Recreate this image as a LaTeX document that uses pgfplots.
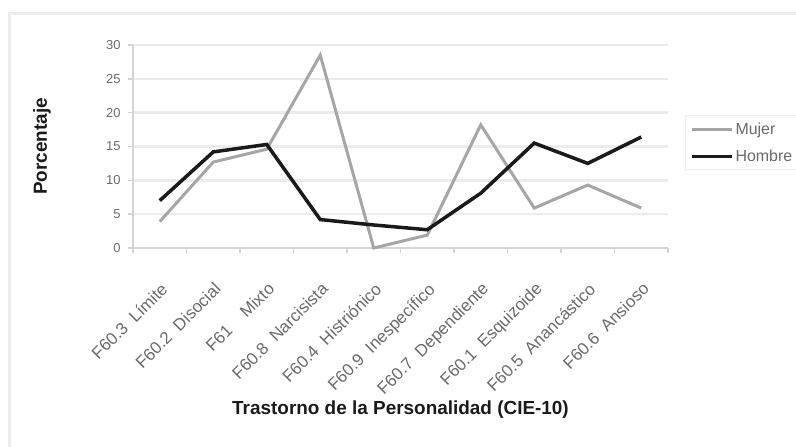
\documentclass[border=0pt]{standalone}
\usepackage{fontspec}
\setmainfont{Liberation Sans}
\usepackage{pgfplots}
\pgfplotsset{compat=1.18}
\definecolor{mujer}{HTML}{A6A6A6}
\definecolor{hombre}{HTML}{1A1A1A}
\definecolor{gridc}{HTML}{ECECEC}
\definecolor{axc}{HTML}{D4D4D4}
\definecolor{tickc}{HTML}{6A6A6A}
\begin{document}
\begin{tikzpicture}[x=1bp,y=1bp]
\useasboundingbox (0,0) rectangle (796,447);
\draw[color=gridc, line width=3bp] (9,0) -- (9,433) -- (800,433);
\begin{axis}[
  scale only axis,
  width=535bp, height=203bp,
  at={(133bp,199bp)}, anchor=south west,
  xmin=-0.5, xmax=9.5, ymin=0, ymax=30,
  axis x line*=bottom, axis y line*=left,
  axis line style={color=axc, line width=1.5bp},
  xtick={0,...,9},
  xticklabels={F60.3\ \ Límite, F60.2\ \ Disocial, F61\ \ \ \ Mixto, F60.8\ \ Narcisista, F60.4\ \ Histriónico, F60.9\ \ Inespecífico, F60.7\ \ Dependiente, F60.1\ \ Esquizoide, F60.5\ \ Anancástico, F60.6\ \ Ansioso},
  minor xtick={-0.5,0.5,...,9.5},
  major x tick style={draw=none},
  minor x tick style={color=axc, line width=1.5bp},
  ytick={0,5,...,30},
  y tick style={color=axc, line width=1.5bp},
  tick align=outside,
  major tick length=5bp, minor tick length=5bp,
  ymajorgrids,
  grid style={color=gridc, line width=2.5bp},
  xticklabel style={rotate=45, anchor=north east, font=\fontsize{17}{17}\selectfont, text=tickc, inner sep=1bp, xshift=-19bp, yshift=-19bp},
  yticklabel style={font=\fontsize{13}{13}\selectfont, text=tickc, xshift=-4bp},
  /pgf/number format/assume math mode=true,
  xlabel={Trastorno de la Personalidad (CIE-10)},
  ylabel={Porcentaje},
  xlabel style={at={(axis description cs:0.5,-0.798)}, anchor=center, font=\fontsize{19}{19}\selectfont\bfseries, text=hombre},
  ylabel style={at={(axis description cs:-0.170,0.5)}, anchor=center, font=\fontsize{19}{19}\selectfont\bfseries, text=hombre},
  legend style={at={(552bp,133bp)}, anchor=north west, draw=gridc, line width=1bp, font=\fontsize{16}{16}\selectfont, text=tickc, inner sep=5bp, row sep=10bp},
  legend cell align=left,
  legend image code/.code={\draw[#1, line width=3bp] (0bp,0bp) -- (40bp,0bp);},
  clip=false,
]
\addplot[color=mujer, line width=3bp] coordinates {
  (0,3.9) (1,12.7) (2,14.6) (3,28.5) (4,0.0) (5,1.9) (6,18.2) (7,5.9) (8,9.3) (9,5.9)};
\addlegendentry{Mujer}
\addplot[color=hombre, line width=3.5bp] coordinates {
  (0,7.0) (1,14.2) (2,15.3) (3,4.2) (4,3.4) (5,2.7) (6,8.1) (7,15.5) (8,12.5) (9,16.4)};
\addlegendentry{Hombre}
\end{axis}
\end{tikzpicture}
\end{document}
